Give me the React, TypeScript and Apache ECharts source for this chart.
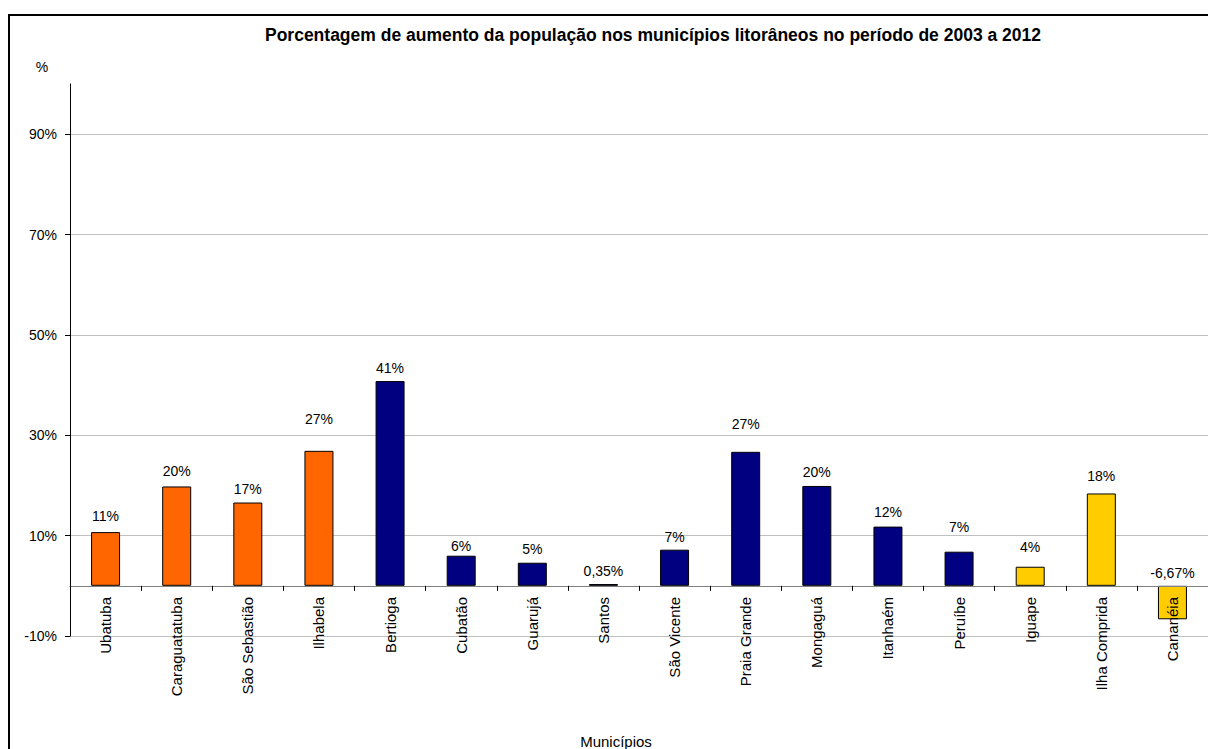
import React, { useEffect, useRef } from "react";
import * as echarts from "echarts";

const categories = [
  "Ubatuba", "Caraguatatuba", "São Sebastião", "Ilhabela", "Bertioga", "Cubatão",
  "Guarujá", "Santos", "São Vicente", "Praia Grande", "Mongaguá", "Itanhaém",
  "Peruíbe", "Iguape", "Ilha Comprida", "Cananéia",
];
const values = [10.7, 19.8, 16.6, 26.9, 40.8, 6.0, 4.6, 0.35, 7.2, 26.7, 19.9, 11.8, 6.8, 3.8, 18.4, -6.67];
const valueLabels = ["11%", "20%", "17%", "27%", "41%", "6%", "5%", "0,35%", "7%", "27%", "20%", "12%", "7%", "4%", "18%", "-6,67%"];
const regions = ["N", "N", "N", "N", "B", "B", "B", "B", "B", "B", "B", "B", "B", "S", "S", "S"];
const yTicks = [-10, 10, 30, 50, 70, 90];

const regionColors: Record<string, string> = { N: "#FF6600", B: "#000080", S: "#FFCC00" };
const labelGaps = [17, 16, 15, 33, 14, 11, 15, 14, 14, 29, 15, 16, 26, 21, 18, 14];

export default function App() {
  const ref = useRef<HTMLDivElement>(null);
  useEffect(() => {
    if (!ref.current) return;
    const chart = echarts.init(ref.current, null, { renderer: "svg" });
    const font = "Arial";
    chart.setOption({
      animation: false,
      backgroundColor: "#ffffff",
      title: {
        text: "Porcentagem de aumento da população nos municípios litorâneos no período de 2003 a 2012",
        left: 648,
        textAlign: "center",
        top: 21,
        textStyle: { fontSize: 17.5, fontWeight: "bold", color: "#000", fontFamily: font },
      },
      graphic: [
        {
          type: "rect",
          shape: { x: 9, y: 15, width: 1210, height: 760 },
          style: { fill: "none", stroke: "#000", lineWidth: 2 },
          silent: true,
        },
        {
          type: "text",
          x: 42,
          y: 67,
          style: { text: "%", fill: "#000", font: "14px Arial", textAlign: "center", textVerticalAlign: "middle" },
        },
        {
          type: "text",
          x: 616,
          y: 741,
          style: { text: "Municípios", fill: "#000", font: "15px Arial", textAlign: "center", textVerticalAlign: "middle" },
        },
      ],
      grid: { left: 70, top: 84, width: 1140, height: 552, containLabel: false },
      xAxis: {
        type: "category",
        data: categories,
        z: 5,
        axisLine: { onZero: true, lineStyle: { color: "#808080", width: 1 } },
        axisTick: { show: true, length: 5, lineStyle: { color: "#000" } },
        axisLabel: { rotate: 90, fontSize: 15, color: "#000", margin: -39, interval: 0, fontFamily: font },
      },
      yAxis: {
        type: "value",
        min: -10,
        max: 100,
        interval: 20,
        axisLine: { show: true, lineStyle: { color: "#000", width: 1 } },
        axisTick: { show: true, length: 5, customValues: yTicks, lineStyle: { color: "#000" } },
        axisLabel: {
          customValues: yTicks,
          fontSize: 14,
          color: "#000",
          margin: 13,
          fontFamily: font,
          formatter: (v: number) => (v === 100 ? "" : `${v}%`),
        },
        splitLine: {
          show: true,
          lineStyle: { color: ["#c0c0c0", "#c0c0c0", "#c0c0c0", "#c0c0c0", "#c0c0c0", "#c0c0c0", "transparent"], width: 1 },
        },
      },
      series: [
        {
          type: "bar",
          barWidth: 29,
          data: values.map((v, i) => ({
            value: v,
            itemStyle: { color: regionColors[regions[i]], borderColor: "#000", borderWidth: 1 },
            label: {
              show: true,
              position: "top",
              distance: Math.max(2, labelGaps[i] - 8),
              formatter: valueLabels[i],
              fontSize: 14,
              color: "#000",
              fontFamily: font,
            },
          })),
        },
      ],
    });
    return () => chart.dispose();
  }, []);
  return <div ref={ref} style={{ position: "fixed", left: 0, top: 0, width: 1208, height: 749 }} />;
}
